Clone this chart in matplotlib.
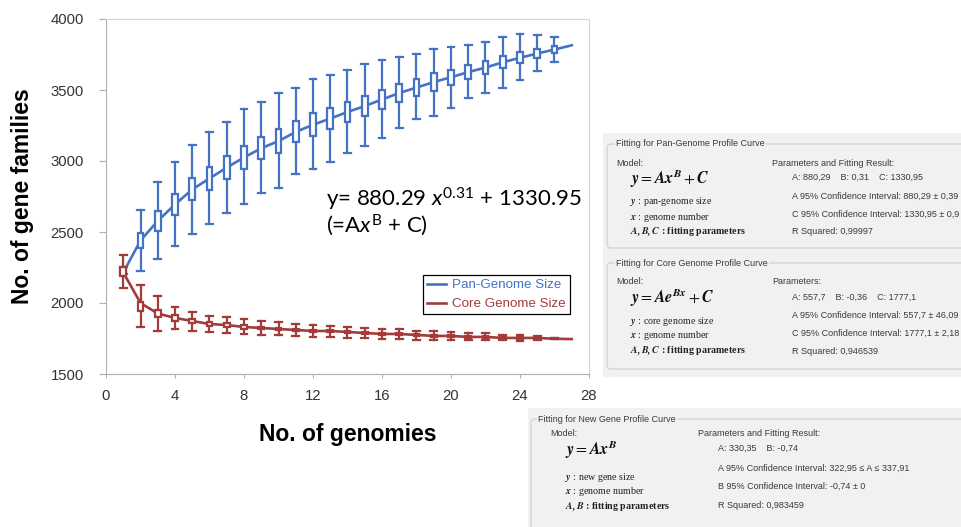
import matplotlib
matplotlib.use('Agg')
import matplotlib.pyplot as plt
from matplotlib.patches import Rectangle, FancyBboxPatch
from matplotlib.transforms import IdentityTransform

plt.rcParams['font.family'] = ['Liberation Sans', 'DejaVu Sans']
plt.rcParams['mathtext.fontset'] = 'custom'
plt.rcParams['mathtext.rm'] = 'Lato'
plt.rcParams['mathtext.it'] = 'Lato:italic'
plt.rcParams['mathtext.bf'] = 'Lato:bold'

# ---- data ----
genomes = list(range(1, 27))

pan_low = [2205, 2225, 2310, 2401, 2486, 2556, 2634, 2697, 2775, 2810, 2908, 2944, 2993,
           3056, 3106, 3162, 3232, 3296, 3317, 3373, 3444, 3479, 3514, 3570, 3634, 3697]
pan_q1 = [2210, 2387, 2507, 2620, 2725, 2796, 2873, 2944, 3014, 3056, 3134, 3176, 3225,
          3275, 3317, 3366, 3416, 3458, 3493, 3535, 3577, 3613, 3655, 3690, 3725, 3760]
pan_med = [2225, 2440, 2578, 2694, 2800, 2877, 2954, 3025, 3090, 3140, 3208, 3257, 3299,
           3345, 3387, 3433, 3479, 3517, 3556, 3588, 3626, 3658, 3697, 3729, 3757, 3785]
pan_q3 = [2245, 2493, 2648, 2768, 2880, 2958, 3035, 3106, 3169, 3225, 3282, 3338, 3373,
          3416, 3458, 3500, 3542, 3577, 3620, 3641, 3676, 3704, 3739, 3768, 3789, 3810]
pan_high = [2250, 2655, 2852, 2993, 3113, 3204, 3275, 3366, 3416, 3479, 3514, 3577, 3606,
            3641, 3683, 3711, 3732, 3754, 3789, 3803, 3817, 3838, 3873, 3894, 3887, 3873]

core_low = [2106, 1831, 1803, 1817, 1803, 1796, 1789, 1782, 1775, 1775, 1768, 1764, 1761,
            1754, 1754, 1746, 1746, 1739, 1739, 1739, 1739, 1739, 1739, 1732, 1740, 1744]
core_q1 = [2190, 1944, 1901, 1873, 1860, 1840, 1833, 1820, 1814, 1808, 1802, 1796, 1796,
           1789, 1783, 1776, 1776, 1770, 1763, 1763, 1757, 1757, 1750, 1750, 1751, 1744]
core_med = [2222, 1975, 1926, 1895, 1873, 1852, 1845, 1831, 1824, 1817, 1810, 1803, 1803,
            1796, 1789, 1782, 1782, 1775, 1768, 1768, 1761, 1761, 1754, 1754, 1754, 1748]
core_q3 = [2254, 2007, 1951, 1915, 1886, 1864, 1857, 1842, 1834, 1826, 1818, 1810, 1810,
           1803, 1795, 1788, 1788, 1780, 1773, 1773, 1765, 1765, 1758, 1758, 1757, 1752]
core_high = [2338, 2127, 2049, 1972, 1937, 1908, 1901, 1887, 1873, 1866, 1852, 1845, 1838,
             1831, 1824, 1817, 1815, 1803, 1801, 1796, 1789, 1787, 1775, 1775, 1768, 1752]

# fitted profile curves
curve_x = list(range(1, 28))
pan_curve = [2215, 2440, 2578, 2694, 2800, 2877, 2954, 3025, 3090, 3140, 3205, 3255, 3299,
             3345, 3387, 3433, 3479, 3517, 3556, 3590, 3626, 3658, 3695, 3727, 3757, 3785, 3815]
core_curve = [2215, 2000, 1926, 1895, 1873, 1852, 1845, 1831, 1824, 1817, 1810, 1803, 1803,
              1796, 1789, 1782, 1782, 1775, 1768, 1768, 1761, 1761, 1754, 1754, 1754, 1748, 1746]

x_ticks = [0, 4, 8, 12, 16, 20, 24, 28]
y_ticks = [1500, 2000, 2500, 3000, 3500, 4000]

BLUE = '#4472c4'
RED = '#a33b3b'
W, H = 962, 527


def box_stats(lo, q1, med, q3, hi):
    return [dict(whislo=a, q1=b, med=c, q3=d, whishi=e, fliers=[])
            for a, b, c, d, e in zip(lo, q1, med, q3, hi)]


fig = plt.figure(figsize=(W / 100, H / 100), dpi=100)
ax = fig.add_axes([106 / W, 1 - 374 / H, 483 / W, 355 / H])

ln_pan, = ax.plot(curve_x, pan_curve, color=BLUE, lw=1.9, zorder=2, label='Pan-Genome Size')
ln_core, = ax.plot(curve_x, core_curve, color=RED, lw=1.9, zorder=2, label='Core Genome Size')

for stats, col in [(box_stats(pan_low, pan_q1, pan_med, pan_q3, pan_high), BLUE),
                   (box_stats(core_low, core_q1, core_med, core_q3, core_high), RED)]:
    ax.bxp(stats, positions=genomes, widths=0.33, capwidths=0.4, patch_artist=True,
           showfliers=False, manage_ticks=False,
           boxprops=dict(facecolor='white', edgecolor=col, linewidth=1.6),
           whiskerprops=dict(color=col, linewidth=1.6),
           capprops=dict(color=col, linewidth=1.6),
           medianprops=dict(linewidth=0), zorder=3)

ax.set_xlim(0, 28)
ax.set_ylim(1500, 4000)
ax.set_xticks(x_ticks)
ax.set_yticks(y_ticks)
ax.tick_params(axis='y', direction='out', length=5, color='#b0b0b0', labelsize=10.7,
               labelcolor='#333333', pad=11)
ax.tick_params(axis='x', direction='out', length=3, color='#b0b0b0', labelsize=10.7,
               labelcolor='#333333', pad=8)
for side in ['left', 'bottom']:
    ax.spines[side].set_color('#b0b0b0')
for side in ['top', 'right']:
    ax.spines[side].set_color('#d4d4d4')

ax.set_ylabel('No. of gene families', fontsize=16.5, fontweight='bold', labelpad=12)
ax.set_xlabel('No. of genomies', fontsize=16.5, fontweight='bold', labelpad=14)

leg = ax.legend(handles=[ln_pan, ln_core], loc='upper left', bbox_to_anchor=(0.656, 0.279),
                borderaxespad=0, fontsize=9.6, frameon=True, fancybox=False, framealpha=1,
                edgecolor='black', borderpad=0.3, handlelength=1.4, handletextpad=0.5,
                labelspacing=0.5, labelcolor='linecolor')
leg.get_frame().set_linewidth(0.9)

ax.text(12.75, 2678, r'y= 880.29 $x^{0.31}$ + 1330.95', fontsize=16, family='Lato',
        va='baseline', ha='left', color='black')
ax.text(12.75, 2495, r'(=A$x^{\mathrm{B}}$ + C)', fontsize=16, family='Lato',
        va='baseline', ha='left', color='black')

# ---- screenshot panels of the fitting results ----
T = IdentityTransform()
BG = '#f1f1f1'
EDGE = '#d2d2d2'
TXT = '#3a3a3a'


def rect(x0, y0, x1, y1):
    fig.add_artist(Rectangle((x0, H - y1), x1 - x0, y1 - y0, transform=T,
                             facecolor=BG, edgecolor='none', zorder=5))


def group(x0, y0, x1, y1, title, tx):
    fig.add_artist(FancyBboxPatch((x0, H - y1), x1 - x0, y1 - y0, transform=T,
                                  boxstyle='round,pad=0,rounding_size=4',
                                  facecolor=BG, edgecolor=EDGE, lw=0.9, zorder=6))
    put(tx, y0, title, bbox=dict(facecolor=BG, edgecolor='none', pad=1))


def put(x, y, s, size=6.5, **kw):
    kw.setdefault('color', TXT)
    fig.text(x, H - y, s, transform=T, fontsize=size, va='center', ha='left', zorder=7, **kw)


def serif(x, y, s, **kw):
    put(x, y, s, size=7.2, family='Liberation Serif', math_fontfamily='stix',
        color='#222222', **kw)


def formula(x, y, s):
    put(x, y, s, size=11.5, math_fontfamily='stix', color='#111111')


rect(603, 133, 970, 377)
rect(528, 408, 970, 540)

# pan-genome
group(607, 144, 990, 248, 'Fitting for Pan-Genome Profile Curve', 616)
put(616, 163, 'Model:')
formula(630, 178, r'$\mathbfit{y} = \mathbfit{Ax}^{\mathbfit{B}} + \mathbfit{C}$')
serif(630, 202, r'$\mathbfit{y}$ : pan-genome size')
serif(630, 217, r'$\mathbfit{x}$ : genome number')
serif(630, 232, r'$\mathbfit{A, B, C}$ : fitting parameters', fontweight='bold')
put(772, 163, 'Parameters and Fitting Result:')
put(792, 177, 'A: 880,29    B: 0,31    C: 1330,95')
put(792, 196, 'A 95% Confidence Interval: 880,29 \u00b1 0,39')
put(792, 214, 'C 95% Confidence Interval: 1330,95 \u00b1 0,9')
put(792, 232, 'R Squared: 0,99997')

# core genome
group(607, 263, 990, 369, 'Fitting for Core Genome Profile Curve', 616)
put(616, 281, 'Model:')
formula(630, 297, r'$\mathbfit{y} = \mathbfit{Ae}^{\mathbfit{Bx}} + \mathbfit{C}$')
serif(630, 321, r'$\mathbfit{y}$ : core genome size')
serif(630, 336, r'$\mathbfit{x}$ : genome number')
serif(630, 351, r'$\mathbfit{A, B, C}$ : fitting parameters', fontweight='bold')
put(772, 281, 'Parameters:')
put(792, 297, 'A: 557,7    B: -0,36    C: 1777,1')
put(792, 315, 'A 95% Confidence Interval: 557,7 \u00b1 46,09')
put(792, 333, 'C 95% Confidence Interval: 1777,1 \u00b1 2,18')
put(792, 351, 'R Squared: 0,946539')

# new genes
group(531, 419, 990, 560, 'Fitting for New Gene Profile Curve', 538)
put(550, 434, 'Model:')
formula(565, 449, r'$\mathbfit{y} = \mathbfit{Ax}^{\mathbfit{B}}$')
serif(565, 477, r'$\mathbfit{y}$ : new gene size')
serif(565, 492, r'$\mathbfit{x}$ : genome number')
serif(565, 507, r'$\mathbfit{A, B}$ : fitting parameters', fontweight='bold')
put(698, 434, 'Parameters and Fitting Result:')
put(718, 448, 'A: 330,35    B: -0,74')
put(718, 468, 'A 95% Confidence Interval: 322,95 \u2264 A \u2264 337,91')
put(718, 486, 'B 95% Confidence Interval: -0,74 \u00b1 0')
put(718, 505, 'R Squared: 0,983459')

fig.savefig('out.png', dpi=100)
